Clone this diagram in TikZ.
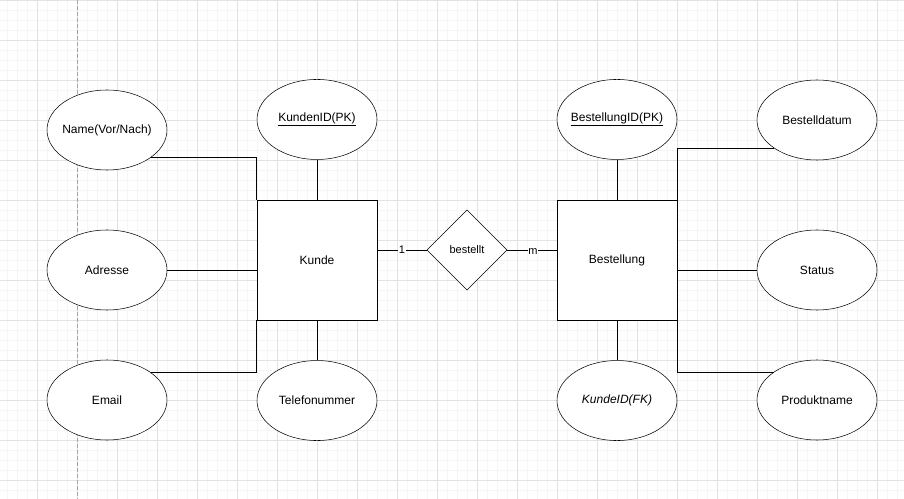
\documentclass[tikz,border=0pt]{standalone}
\usepackage{fontspec}
\setmainfont{Liberation Sans}
\usetikzlibrary{shapes.geometric, positioning}
\definecolor{gridminor}{RGB}{245,245,245}
\definecolor{gridmajor}{RGB}{226,226,226}
\definecolor{pagebreak}{RGB}{165,165,165}
\tikzset{
	line width=0.75pt, % one pixel of the screenshot
	entity/.style={draw, rectangle, fill=white, minimum size=90pt, inner sep=0pt, font=\fontsize{9}{11}\selectfont}, % entity boxes
	attribute/.style={draw, ellipse, fill=white, minimum width=90pt, minimum height=60pt, inner sep=0pt, font=\fontsize{9}{11}\selectfont,
		execute at begin node={\hbox to 0pt\bgroup\hss}, execute at end node={\hss\egroup}}, % attribute ellipses, text does not widen them
	relation/.style={draw, diamond, fill=white, minimum width=60pt, minimum height=60pt, inner sep=0pt, font=\fontsize{8.25}{10}\selectfont}, % the relationship
	card/.style={fill=white, inner sep=0.5pt, font=\fontsize{8.25}{10}\selectfont}, % cardinality labels
}

\begin{document}
\begin{tikzpicture}[x=0.75pt, y=-0.75pt]
	\useasboundingbox (0,0) rectangle (904,499);
	% background grid
	\foreach \gx in {7,17,...,897} \draw[gridminor] (\gx,0) -- (\gx,499);
	\foreach \gy in {10,20,...,490} \draw[gridminor] (0,\gy) -- (904,\gy);
	\foreach \gx in {37,77,...,877} \draw[gridmajor] (\gx,0) -- (\gx,499);
	\foreach \gy in {0,40,...,480} \draw[gridmajor] (0,\gy) -- (904,\gy);
	\draw[pagebreak, dash pattern=on 3pt off 1.5pt] (77,0) -- (77,499);

	% entities and relationship
	\node[entity] (kunde) at (317,260) {Kunde};
	\node[entity] (bestellung) at (617,260) {Bestellung};
	\node[relation] (bestellt) at (467,250) {bestellt};

	% attributes
	\node[attribute] (kundenid) [above=30pt of kunde] {\underline{KundenID(PK)}};
	\node[attribute] (telefon) [below=30pt of kunde] {Telefonummer};
	\node[attribute] (name) at (107,130) {Name(Vor/Nach)};
	\node[attribute] (adresse) at (107,270) {Adresse};
	\node[attribute] (email) at (107,400) {Email};
	\node[attribute] (bestellid) [above=30pt of bestellung] {\underline{BestellungID(PK)}};
	\node[attribute] (kundeidfk) [below=30pt of bestellung] {\itshape KundeID(FK)};
	\node[attribute] (datum) at (817,120) {Bestelldatum};
	\node[attribute] (status) at (817,270) {Status};
	\node[attribute] (produkt) at (817,400) {Produktname};

	% connectors
	\draw (name.-32) -| (kunde.north west);
	\draw (adresse.east) -- (adresse.east -| kunde.west);
	\draw (email.32) -| (kunde.south west);
	\draw (kundenid) -- (kunde);
	\draw (telefon) -- (kunde);
	\draw (kunde.east |- bestellt.west) -- node[card]{1} (bestellt.west);
	\draw (bestellt.east) -- node[card, pos=0.52, yshift=-1pt]{m} (bestellung.west |- bestellt.east);
	\draw (bestellid) -- (bestellung);
	\draw (kundeidfk) -- (bestellung);
	\draw (datum.213) -| (bestellung.north east);
	\draw (status.west) -- (status.west -| bestellung.east);
	\draw (produkt.147) -| (bestellung.south east);
\end{tikzpicture}
\end{document}
